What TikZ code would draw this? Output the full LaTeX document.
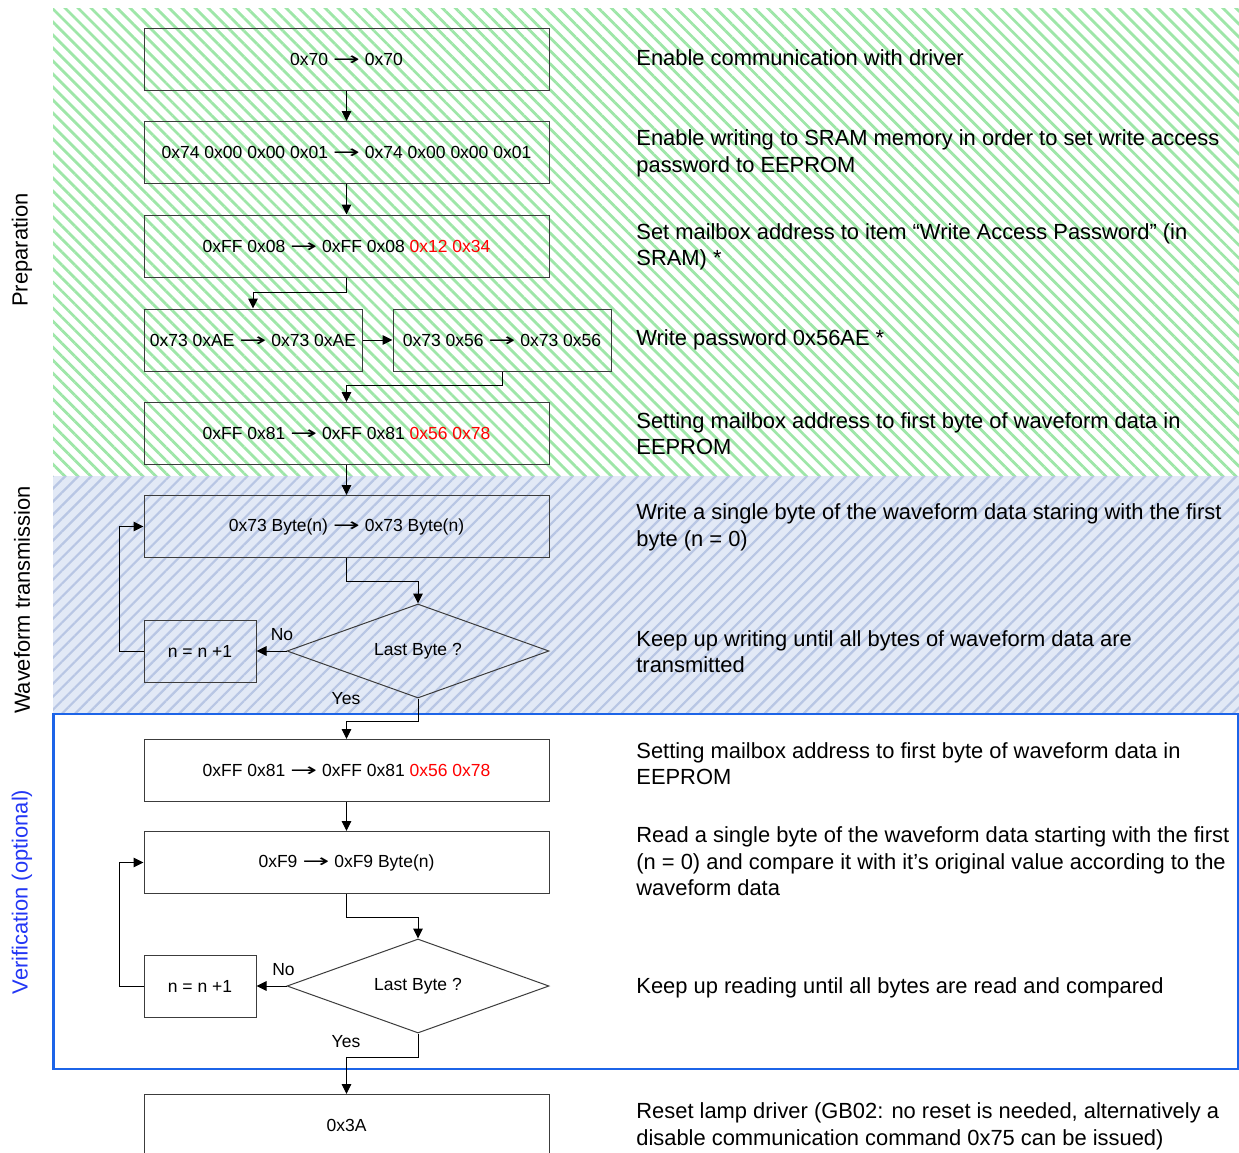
\documentclass[tikz,border=0pt]{standalone}
\usepackage{fontspec}
\setmainfont{Liberation Sans}
\newfontfamily\arrowfont{DejaVu Sans}
\usetikzlibrary{shapes.geometric, arrows.meta, patterns.meta}

\definecolor{prepgreen}{RGB}{158,230,168}
\definecolor{wavebg}{RGB}{226,233,246}
\definecolor{waveline}{RGB}{184,198,228}
\definecolor{verblue}{RGB}{28,100,232}
\definecolor{vertext}{RGB}{35,55,245}
\definecolor{boxgray}{RGB}{60,60,60}

\newcommand\flowfont{\fontsize{8.75}{10.5}\selectfont}
\newcommand\notefont{\fontsize{10.95}{13.25}\selectfont}
\newcommand\sendsto{\scalebox{1.85}[1.05]{\arrowfont →}}

\tikzset{
  msgbox/.style={draw=boxgray, line width=0.5pt, minimum width=202.5pt, minimum height=31pt, inner sep=0pt, font=\flowfont},
  halfbox/.style={msgbox, minimum width=109pt},
  incrbox/.style={msgbox, minimum width=56pt},
  decision/.style={diamond, draw=boxgray, line width=0.5pt, shape aspect=2.79, minimum width=131pt, minimum height=47pt, inner sep=0pt, font=\flowfont},
  note/.style={anchor=west, align=left, inner sep=0pt, font=\notefont},
  lbl/.style={inner sep=0pt, font=\flowfont},
  flow/.style={-{Triangle[length=5pt,width=4.8pt]}, line width=0.5pt},
}

\begin{document}
\begin{tikzpicture}[x=0.5pt, y=-0.5pt]
  \clip (0,0) rectangle (1239,1153);
  % sections
  \fill[pattern={Lines[angle=-45,distance=4.6pt,line width=1.4pt]}, pattern color=prepgreen] (53,8) rectangle (1239,476);
  \fill[wavebg] (53,476) rectangle (1239,714);
  \fill[pattern={Lines[angle=45,distance=4.6pt,line width=1.1pt]}, pattern color=waveline] (53,476) rectangle (1239,714);
  \draw[verblue, line width=1.25pt, fill=white] (53.5,714) rectangle (1238,1069);

  \node[rotate=90, font=\notefont] (prep) at (22,250) {Preparation};
  \node[rotate=90, font=\notefont] (wave) at (22,600) {Waveform transmission};
  \node[rotate=90, font=\notefont, text=vertext] (verif) at (22,892) {Verification (optional)};

  % flow
  \node[msgbox] (p1) at (346.5,59.5) {0x70 \sendsto{} 0x70};
  \node[msgbox] (p2) at (346.5,152.5) {0x74 0x00 0x00 0x01 \sendsto{} 0x74 0x00 0x00 0x01};
  \node[msgbox] (p3) at (346.5,246) {0xFF 0x08 \sendsto{} 0xFF 0x08 \textcolor{red}{0x12 0x34}};
  \node[halfbox] (p4) at (253,340) {0x73 0xAE \sendsto{} 0x73 0xAE};
  \node[halfbox] (p5) at (502,340) {0x73 0x56 \sendsto{} 0x73 0x56};
  \node[msgbox] (p6) at (346.5,433.5) {0xFF 0x81 \sendsto{} 0xFF 0x81 \textcolor{red}{0x56 0x78}};
  \node[msgbox] (w1) at (346.5,526.5) {0x73 Byte(n) \sendsto{} 0x73 Byte(n)};
  \node[decision] (wd) at (418,651) {Last Byte ?};
  \node[incrbox] (wn) at (200,651) {n = n +1};
  \node[msgbox] (v1) at (346.5,770.5) {0xFF 0x81 \sendsto{} 0xFF 0x81 \textcolor{red}{0x56 0x78}};
  \node[msgbox] (v2) at (346.5,862.5) {0xF9 \sendsto{} 0xF9 Byte(n)};
  \node[decision] (vd) at (418,986) {Last Byte ?};
  \node[incrbox] (vn) at (200,986) {n = n +1};
  \node[msgbox] (reset) at (346.5,1125.5) {0x3A};

  \node[lbl] (wyes) at (346,699) {Yes};
  \node[lbl] (vyes) at (346,1042) {Yes};

  \draw[flow] (p1) -- (p2);
  \draw[flow] (p2) -- (p3);
  \draw[flow] (p3.south) -- ++(0,15) -| (p4.north);
  \draw[flow] (p4) -- (p5);
  \draw[flow] (p5.south) -- ++(0,14) -| (p6.north);
  \draw[flow] (p6) -- (w1);
  \draw[flow] (w1.south) -- ++(0,23) -| (wd.north);
  \draw[flow] (wd.west) -- node[lbl, pos=0.15, above=5pt] {No} (wn.east);
  \draw[flow] (wn.west) -- ++(-24,0) |- (w1.west);
  \draw[flow] (wd.south) -- ++(0,23) -| (v1.north);
  \draw[flow] (v1) -- (v2);
  \draw[flow] (v2.south) -- ++(0,23) -| (vd.north);
  \draw[flow] (vd.west) -- node[lbl, pos=0.1, above=5pt] {No} (vn.east);
  \draw[flow] (vn.west) -- ++(-24,0) |- (v2.west);
  \draw[flow] (vd.south) -- ++(0,24) -| (reset.north);

  % notes
  \node[note] (n1) at (636,58) {Enable communication with driver};
  \node[note] (n2) at (636,153.5) {Enable writing to SRAM memory in order to set write access\\password to EEPROM};
  \node[note] (n3) at (636,247) {Set mailbox address to item “Write Access Password” (in\\SRAM) *};
  \node[note] (n4) at (636,340) {Write password 0x56AE *};
  \node[note] (n5) at (636,433.5) {Setting mailbox address to first byte of waveform data in\\EEPROM};
  \node[note] (n6) at (636,527.5) {Write a single byte of the waveform data staring with the first\\byte (n = 0)};
  \node[note] (n7) at (636,651.5) {Keep up writing until all bytes of waveform data are\\transmitted};
  \node[note] (n8) at (636,763.5) {Setting mailbox address to first byte of waveform data in\\EEPROM};
  \node[note] (n9) at (636,861.5) {Read a single byte of the waveform data starting with the first\\(n = 0) and compare it with it’s original value according to the\\waveform data};
  \node[note] (n10) at (636,988) {Keep up reading until all bytes are read and compared};
  \node[note] (n11) at (636,1126.5) {Reset lamp driver (GB02: no reset is needed, alternatively a\\disable communication command 0x75 can be issued)};
\end{tikzpicture}
\end{document}
